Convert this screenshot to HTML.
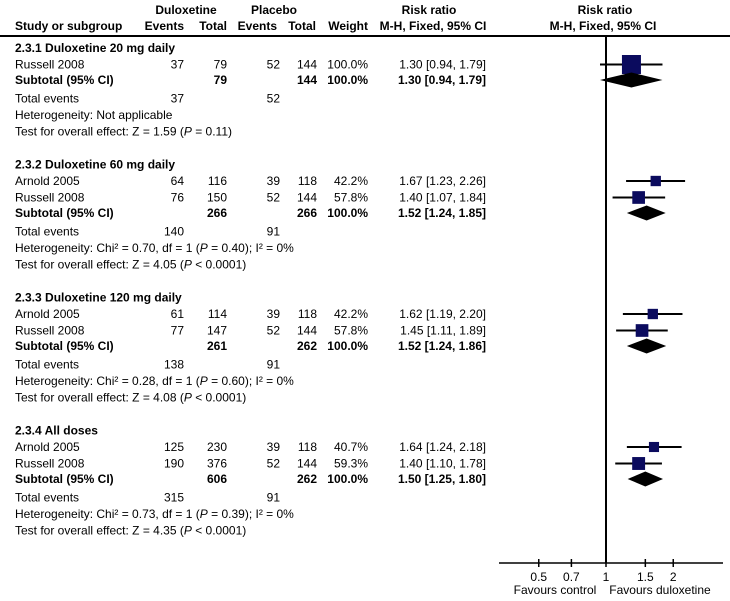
<!DOCTYPE html>
<html><head><meta charset="utf-8"><style>
html,body{margin:0;padding:0;background:#fff;}
svg{display:block;font-family:"Liberation Sans",Arial,sans-serif;font-size:12px;}
.b{font-weight:bold;}
</style></head><body>
<svg id="chart" width="730" height="601" viewBox="0 0 730 601">
<g class="b">
<text x="186" y="14" text-anchor="middle">Duloxetine</text>
<text x="274" y="14" text-anchor="middle">Placebo</text>
<text x="429" y="14" text-anchor="middle">Risk ratio</text>
<text x="605" y="14" text-anchor="middle">Risk ratio</text>
<text x="15" y="30">Study or subgroup</text>
<text x="184" y="30" text-anchor="end">Events</text>
<text x="227" y="30" text-anchor="end">Total</text>
<text x="277" y="30" text-anchor="end">Events</text>
<text x="316" y="30" text-anchor="end">Total</text>
<text x="368" y="30" text-anchor="end">Weight</text>
<text x="433" y="30" text-anchor="middle">M-H, Fixed, 95% CI</text>
<text x="603" y="30" text-anchor="middle">M-H, Fixed, 95% CI</text>
</g>
<line x1="0" y1="36" x2="730" y2="36" stroke="#000" stroke-width="2"/>
<g id="rows"></g>
<g id="marks"></g>
<g id="axis"></g>
</svg>
<script>
const sectionTitles = ["2.3.1 Duloxetine 20 mg daily","2.3.2 Duloxetine 60 mg daily","2.3.3 Duloxetine 120 mg daily","2.3.4 All doses"];
const studyNames = [["Russell 2008"],["Arnold 2005","Russell 2008"],["Arnold 2005","Russell 2008"],["Arnold 2005","Russell 2008"]];
const dulEvents = [[37],[64,76],[61,77],[125,190]];
const dulTotal = [[79],[116,150],[114,147],[230,376]];
const plaEvents = [[52],[39,52],[39,52],[39,52]];
const plaTotal = [[144],[118,144],[118,144],[118,144]];
const weights = [[100.0],[42.2,57.8],[42.2,57.8],[40.7,59.3]];
const rr = [[1.30],[1.67,1.40],[1.62,1.45],[1.64,1.40]];
const rrLo = [[0.94],[1.23,1.07],[1.19,1.11],[1.24,1.10]];
const rrHi = [[1.79],[2.26,1.84],[2.20,1.89],[2.18,1.78]];
const subRR = [1.30,1.52,1.52,1.50];
const subLo = [0.94,1.24,1.24,1.25];
const subHi = [1.79,1.85,1.86,1.80];
const subDulTotal = [79,266,261,606];
const subPlaTotal = [144,266,262,262];
const totDulEvents = [37,140,138,315];
const totPlaEvents = [52,91,91,91];
const hetText = ["Heterogeneity: Not applicable","Heterogeneity: Chi² = 0.70, df = 1 (<P> = 0.40); I² = 0%","Heterogeneity: Chi² = 0.28, df = 1 (<P> = 0.60); I² = 0%","Heterogeneity: Chi² = 0.73, df = 1 (<P> = 0.39); I² = 0%"];
const zText = ["1.59","4.05","4.08","4.35"];
const pText = ["= 0.11","< 0.0001","< 0.0001","< 0.0001"];
const tickValues = [0.5,0.7,1,1.5,2];
const tickLabels = ["0.5","0.7","1","1.5","2"];

const NS = "http://www.w3.org/2000/svg";
const x0 = 606, k = 97;
function xs(v){ return x0 + k*Math.log(v); }
function mk(tag, attrs, parent){ const e=document.createElementNS(NS,tag); for(const a in attrs) e.setAttribute(a,attrs[a]); parent.appendChild(e); return e; }
function txt(parent, x, y, s, anchor, bold){
  const t = mk('text',{x:x,y:y+4,'text-anchor':anchor||'start'},parent);
  if(bold) t.setAttribute('font-weight','bold');
  t.textContent = s; return t;
}
function richTxt(parent,x,y,s){
  const t = mk('text',{x:x,y:y+4},parent);
  const parts = s.split(/(<P>)/);
  parts.forEach(p=>{ const sp = mk('tspan',{},t); if(p==='<P>'){sp.setAttribute('font-style','italic'); sp.textContent='P';} else sp.textContent=p; });
  return t;
}
const rows = document.getElementById('rows'), marks = document.getElementById('marks'), axis = document.getElementById('axis');
const fmt = v => v.toFixed(2);
let base = 48;
for(let s=0;s<4;s++){
  const g = mk('g',{},rows);
  
  
  const tt = txt(g,15,base,sectionTitles[s],'start',true);
  
  
  const n = studyNames[s].length;
  for(let i=0;i<n;i++){
    const y = base + 16.5*(i+1);
    const sr = mk('g',{},g);
    
    
    txt(sr,15,y,studyNames[s][i]);
    txt(sr,184,y,String(dulEvents[s][i]),'end');
    txt(sr,227,y,String(dulTotal[s][i]),'end');
    txt(sr,280,y,String(plaEvents[s][i]),'end');
    txt(sr,317,y,String(plaTotal[s][i]),'end');
    txt(sr,368,y,weights[s][i].toFixed(1)+'%','end');
    txt(sr,486,y,fmt(rr[s][i])+' ['+fmt(rrLo[s][i])+', '+fmt(rrHi[s][i])+']','end');
    const ci = mk('line',{x1:xs(rrLo[s][i]),x2:xs(rrHi[s][i]),y1:y,y2:y,stroke:'#000','stroke-width':2},marks);
    
    
    const sz = 4 + 15*weights[s][i]/100;
    const bx = mk('rect',{x:xs(rr[s][i])-sz/2,y:y-sz/2,width:sz,height:sz,fill:'#0b0b5e'},marks);
    
    
  }
  const ys = base + 16.5*n + 15.5;
  const sg = mk('g',{},g);
  
  
  txt(sg,15,ys,'Subtotal (95% CI)','start',true);
  txt(sg,227,ys,String(subDulTotal[s]),'end',true);
  txt(sg,317,ys,String(subPlaTotal[s]),'end',true);
  txt(sg,368,ys,'100.0%','end',true);
  txt(sg,486,ys,fmt(subRR[s])+' ['+fmt(subLo[s])+', '+fmt(subHi[s])+']','end',true);
  const d = mk('polygon',{points:[xs(subLo[s])+','+ys, xs(subRR[s])+','+(ys-7.5), xs(subHi[s])+','+ys, xs(subRR[s])+','+(ys+7.5)].join(' '),fill:'#000'},marks);
  
  
  const yt = ys + 18.5;
  const tg = mk('g',{},g);
  
  
  txt(tg,15,yt,'Total events');
  txt(tg,184,yt,String(totDulEvents[s]),'end');
  txt(tg,280,yt,String(totPlaEvents[s]),'end');
  const h = richTxt(g,15,yt+16.5,hetText[s]);
  
  
  const z = richTxt(g,15,yt+33,'Test for overall effect: Z = '+zText[s]+' (<P> '+pText[s]+')');
  
  
  base = yt + 66;
}
const vl = mk('line',{x1:x0,x2:x0,y1:37,y2:563,stroke:'#000','stroke-width':2},axis);


const al = mk('line',{x1:499,x2:723,y1:563,y2:563,stroke:'#000','stroke-width':1.5},axis);


tickValues.forEach((v,i)=>{
  const tk = mk('line',{x1:xs(v),x2:xs(v),y1:559,y2:567,stroke:'#000','stroke-width':1.5},axis);
  
  
  const tl = txt(axis,xs(v),577,tickLabels[i],'middle');
  
  
});
const fc = txt(axis,555,590,'Favours control','middle');


const fd = txt(axis,660,590,'Favours duloxetine','middle');


</script>
</body></html>
